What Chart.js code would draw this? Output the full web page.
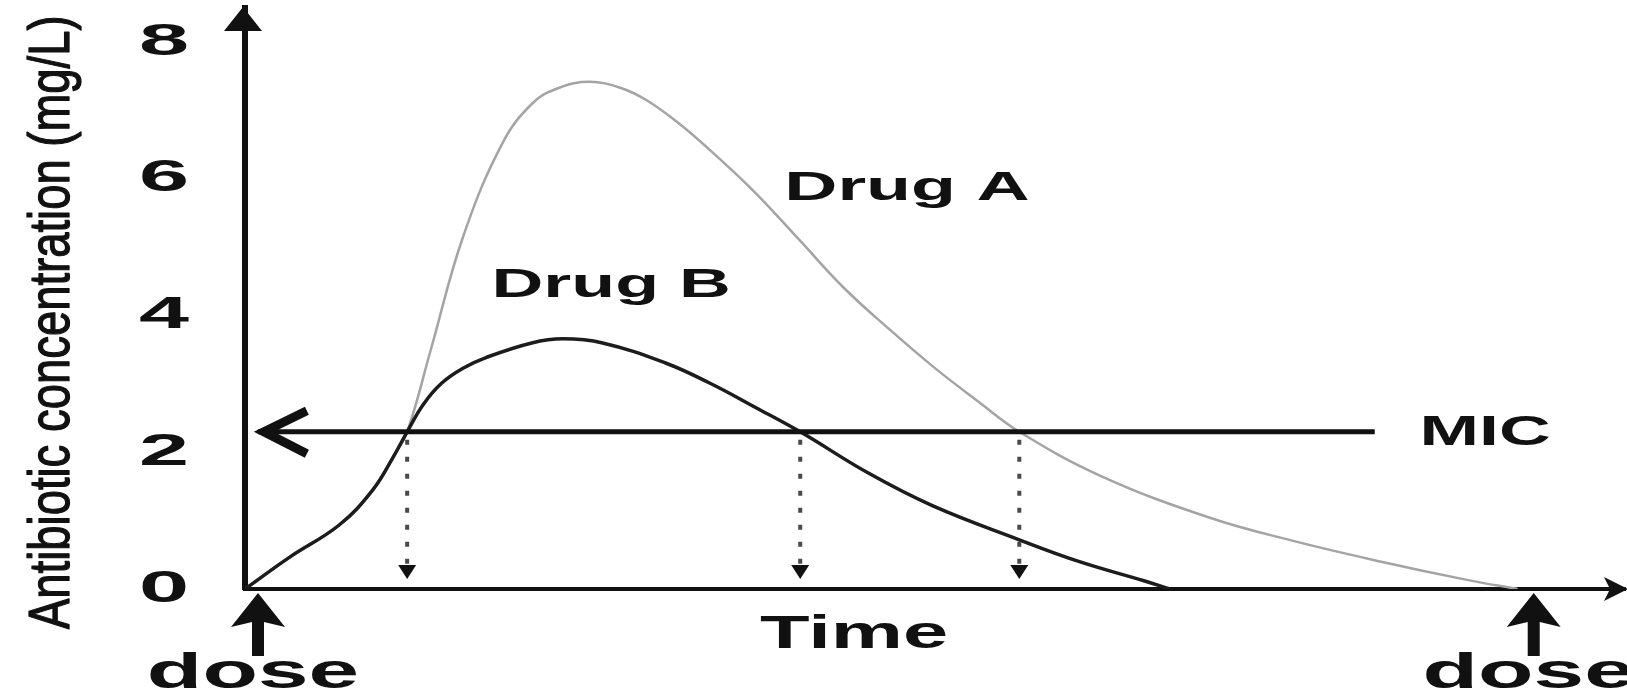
<!DOCTYPE html>
<html><head><meta charset="utf-8">
<script src="https://cdn.jsdelivr.net/npm/chart.js@4.4.1/dist/chart.umd.min.js"></script>
<style>html,body{margin:0;padding:0;background:#fff;overflow:hidden}#wrap{position:relative;width:1627px;height:695px}</style>
</head><body><div id="wrap"><canvas id="c"></canvas></div>
<script>
// ---- data ----
const yTicks = [0, 2, 4, 6, 8];
const timeA = [0, 0.42, 0.88, 1.19, 1.38, 1.51, 1.73, 2.03, 2.40, 2.68, 2.92, 3.21, 3.50, 3.74, 4.05, 4.33, 4.75, 5.16, 5.58, 6.00, 6.41, 6.83, 7.21, 7.96, 8.97, 9.77, 10.58, 11.39, 11.85];
const concA = [0, 0.47, 0.94, 1.45, 1.93, 2.30, 3.50, 5.15, 6.53, 7.11, 7.33, 7.42, 7.33, 7.15, 6.80, 6.42, 5.80, 5.11, 4.40, 3.80, 3.25, 2.74, 2.30, 1.66, 1.05, 0.70, 0.40, 0.13, 0];
const timeB = [0, 0.42, 0.88, 1.19, 1.38, 1.51, 1.66, 1.83, 2.03, 2.25, 2.67, 2.96, 3.33, 3.91, 4.33, 4.75, 5.17, 5.80, 6.40, 7.21, 7.77, 8.37, 8.61];
const concB = [0, 0.47, 0.94, 1.45, 1.93, 2.30, 2.70, 3.01, 3.23, 3.39, 3.60, 3.66, 3.60, 3.31, 3.01, 2.66, 2.30, 1.70, 1.22, 0.72, 0.40, 0.12, 0];
const micValue = 2.3;
const micSpan = [0.12, 10.52];
const micCrossings = [1.51, 5.17, 7.21];
const doseTimes = [0, 12];
const texts = {drugA: 'Drug A', drugB: 'Drug B', mic: 'MIC', time: 'Time', dose: 'dose', yTitle: 'Antibiotic concentration (mg/L)'};

function pts(t, c) { return t.map((x, i) => ({x: x, y: c[i]})); }

function drawText(ctx, text, cx, cy, font, targetW, mode, rotate, sxFixed, strokeW) {
  ctx.save();
  ctx.font = font;
  ctx.textAlign = 'left';
  ctx.textBaseline = 'alphabetic';
  const m = ctx.measureText(text);
  const inkW = m.actualBoundingBoxLeft + m.actualBoundingBoxRight;
  const sx = sxFixed ? sxFixed : (targetW ? targetW / inkW : 1);
  let y0;
  if (mode === 'cap') { y0 = ctx.measureText('H').actualBoundingBoxAscent / 2; }
  else { y0 = (m.actualBoundingBoxAscent - m.actualBoundingBoxDescent) / 2; }
  const x0 = -(m.actualBoundingBoxRight - m.actualBoundingBoxLeft) / 2;
  ctx.translate(cx, cy);
  if (rotate) ctx.rotate(rotate);
  ctx.scale(sx, 1);
  ctx.fillStyle = '#111';
  ctx.fillText(text, x0, y0);
  if (strokeW) { ctx.strokeStyle = '#111'; ctx.lineWidth = strokeW; ctx.lineJoin = 'round'; ctx.strokeText(text, x0, y0); }
  ctx.restore();
}
function poly(ctx, p) {
  ctx.beginPath(); ctx.moveTo(p[0][0], p[0][1]);
  for (let i = 1; i < p.length; i++) ctx.lineTo(p[i][0], p[i][1]);
  ctx.closePath(); ctx.fill();
}

const annot = {
  id: 'annot',
  afterDraw(chart) {
    const ctx = chart.ctx, a = chart.chartArea, xs = chart.scales.x, ys = chart.scales.y;
    ctx.save();
    ctx.fillStyle = '#111'; ctx.strokeStyle = '#111';
    const ax = xs.getPixelForValue(0);
    const ay = ys.getPixelForValue(0);
    // y axis arrowhead
    poly(ctx, [[ax - 2, a.top - 1], [ax - 21, a.top + 23], [ax + 17, a.top + 23]]);
    // x axis arrowhead
    poly(ctx, [[a.right + 3, ay], [a.right - 21, ay - 12], [a.right - 15, ay], [a.right - 21, ay + 12]]);
    // MIC arrowhead
    const my = ys.getPixelForValue(micValue);
    const mx = xs.getPixelForValue(micSpan[0]);
    ctx.lineWidth = 9; ctx.lineJoin = 'miter';
    ctx.beginPath(); ctx.moveTo(mx + 49, my - 21); ctx.lineTo(mx + 6, my); ctx.lineTo(mx + 49, my + 22); ctx.stroke();
    // dotted drop lines
    ctx.save();
    ctx.strokeStyle = '#4a4a4a'; ctx.lineWidth = 4; ctx.setLineDash([5, 12]);
    micCrossings.forEach(t => {
      const px = xs.getPixelForValue(t);
      ctx.beginPath(); ctx.moveTo(px, my + 8); ctx.lineTo(px, ay - 24); ctx.stroke();
    });
    ctx.restore();
    micCrossings.forEach(t => {
      const px = xs.getPixelForValue(t);
      poly(ctx, [[px, ay - 10], [px - 9, ay - 24], [px + 9, ay - 24]]);
    });
    // dose arrows and labels
    doseTimes.forEach(t => {
      const px = Math.max(xs.getPixelForValue(t), a.left + 13);
      poly(ctx, [[px, ay + 4], [px - 27, ay + 38], [px - 6, ay + 33], [px - 6, ay + 67], [px + 6, ay + 67], [px + 6, ay + 33], [px + 27, ay + 38]]);
      drawText(ctx, texts.dose, px - 4, ay + 81, 'bold 50px "Liberation Sans"', 207, 'ink');
    });
    // y tick labels
    yTicks.forEach(v => {
      drawText(ctx, String(v), 164, ys.getPixelForValue(v) - 3, 'bold 45px "Liberation Sans"', null, 'cap', 0, 2.0);
    });
    // labels
    drawText(ctx, texts.yTitle, 53.5, 323.5, '58px "Liberation Sans"', 611, 'ink', -Math.PI / 2, null, 1.3);
    drawText(ctx, texts.drugA, 908, 186, 'bold 40px "Liberation Sans"', 240, 'cap');
    drawText(ctx, texts.drugB, 611.5, 283, 'bold 41px "Liberation Sans"', 233, 'cap');
    drawText(ctx, texts.mic, 1486.5, 430, 'bold 42px "Liberation Sans"', 127, 'cap');
    drawText(ctx, texts.time, 853.5, 631.5, 'bold 46px "Liberation Sans"', 187, 'cap');
    ctx.restore();
  }
};

new Chart(document.getElementById('c'), {
  type: 'line',
  data: {
    datasets: [
      {label: texts.mic, data: micSpan.map(x => ({x: x, y: micValue})), borderColor: '#111', borderWidth: 5, pointRadius: 0, order: -1},
      {label: texts.drugB, data: pts(timeB, concB), borderColor: '#1c1c1c', borderWidth: 3.5, pointRadius: 0, tension: 0.4, fill: false, order: 0},
      {label: texts.drugA, data: pts(timeA, concA), borderColor: '#a4a4a4', borderWidth: 2.5, pointRadius: 0, tension: 0.4, fill: false, order: 1}
    ]
  },
  options: {
    responsive: true, maintainAspectRatio: false, animation: false, events: [],
    layout: {padding: {left: 245, right: 2, top: 8, bottom: 106}},
    plugins: {legend: {display: false}, tooltip: {enabled: false}},
    scales: {
      x: {type: 'linear', min: 0, max: 12.85, ticks: {display: false}, grid: {display: false, drawTicks: false}, border: {display: true, color: '#111', width: 4}},
      y: {type: 'linear', min: 0, max: 8.5, ticks: {display: false}, grid: {display: false, drawTicks: false}, border: {display: true, color: '#111', width: 6},
          afterBuildTicks: s => { s.ticks = yTicks.map(v => ({value: v})); }}
    }
  },
  plugins: [annot]
});
</script>
</body></html>
